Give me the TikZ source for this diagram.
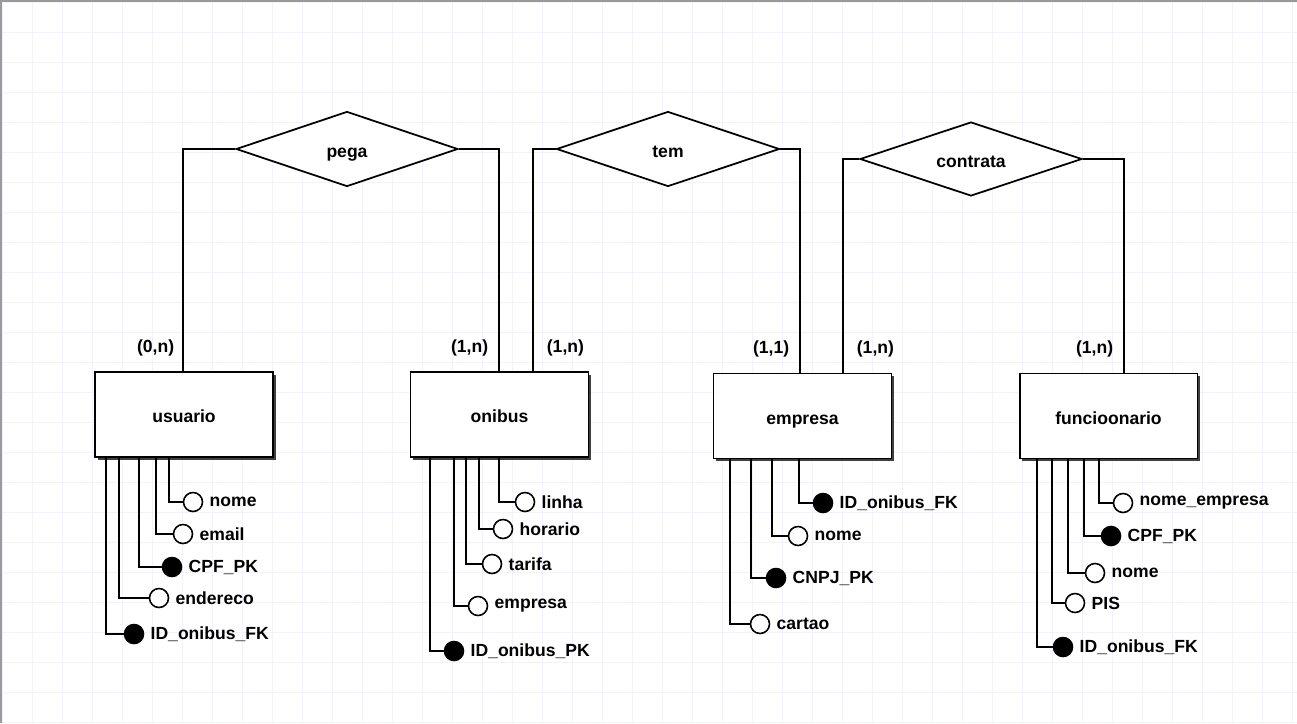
\documentclass[tikz,border=0pt]{standalone}
\usepackage{fontspec}
\setmainfont{Liberation Sans}
\usepackage{tikz}
\usetikzlibrary{shapes.geometric}
\usetikzlibrary{shadows}
\usetikzlibrary{positioning}
\definecolor{gridcolor}{HTML}{F0F3FA}
\definecolor{framecolor}{HTML}{9A9A9A}
\tikzset{
  erfont/.style={font=\bfseries\fontsize{10}{12}\selectfont},
  entity/.style={draw, erfont, line width=1.1pt, fill=white, minimum width=3.56cm,
    minimum height=1.7cm, text height=9.5pt, text depth=0pt,
    drop shadow={shadow xshift=1.6pt, shadow yshift=-1.6pt, fill=black!75, opacity=1}},
  relation/.style={draw, erfont, diamond, aspect=3, inner sep=0pt, line width=1pt, fill=white,
    text height=9.5pt, text depth=0pt},
  attr/.style={draw, circle, line width=0.9pt, fill=white, inner sep=0pt, minimum size=0.38cm},
  pkattr/.style={attr, fill=black},
  attrtext/.style={erfont, inner sep=0pt},
  card/.style={erfont, inner sep=0pt}
}

\begin{document}
\begin{tikzpicture}[x=0.02cm,y=-0.02cm,line width=1pt]
\useasboundingbox (0,0) rectangle (1297,723);
\fill[white] (0,0) rectangle (1297,723);
%%\draw[step=1cm,color=gray!50,dotted] (0,0) grid (5,3);
\foreach \g in {2,32,...,1292}
    \draw[gridcolor, line width=0.55pt] (\g,0) -- (\g,723);
\foreach \g in {2,32,...,722}
    \draw[gridcolor, line width=0.55pt] (0,\g) -- (1297,\g);
\draw[framecolor, line width=1.2pt] (1,723) -- (1,1) -- (1297,1);

% entidades
\node[entity] (usuario) at (184,414.5) {usuario};
\node[entity] (onibus) at (499.5,414.5) {onibus};
\node[entity] (empresa) at (802.5,416) {empresa};
\node[entity] (funcionario) at (1108.5,416) {funcioonario};

% relacionamentos
\node[relation, minimum width=4.44cm, minimum height=1.5cm] (pega) at (347,149) {pega};
\node[relation, minimum width=4.46cm, minimum height=1.5cm] (tem) at (668,149) {tem};
\node[relation, minimum width=4.44cm, minimum height=1.48cm] (contrata) at (971,159) {contrata};

\draw (pega.west) -| (usuario.north -| 183,0);
\draw (pega.east) -| (onibus.north -| 499,0);
\draw (tem.west) -| (onibus.north -| 533,0);
\draw (tem.east) -| (empresa.north -| 800,0);
\draw (contrata.west) -| (empresa.north -| 843,0);
\draw (contrata.east) -| (funcionario.north -| 1124,0);

% cardinalidades
\node[card, anchor=east] (c1) at (175,348) {(0,n)};
\node[card, anchor=east] (c2) at (489,348) {(1,n)};
\node[card, anchor=west] (c3) at (546,348) {(1,n)};
\node[card, anchor=east] (c4) at (790,349) {(1,1)};
\node[card, anchor=west] (c5) at (856,349) {(1,n)};
\node[card, anchor=east] (c6) at (1114,349) {(1,n)};

% atributos
\foreach \ent/\nm/\lx/\ly/\cx/\sty/\txt in {
    usuario/u1/169/502/193/attr/nome,
    usuario/u2/156/534/183/attr/email,
    usuario/u3/139/567/172/pkattr/CPF\_PK,
    usuario/u4/119/598/159/attr/endereco,
    usuario/u5/106/634/134/pkattr/ID\_onibus\_FK,
    onibus/o1/499/502/525/attr/linha,
    onibus/o2/479/529/503/attr/horario,
    onibus/o3/466/564/492/attr/tarifa,
    onibus/o4/454/606/478/attr/empresa,
    onibus/o5/430/651/454/pkattr/ID\_onibus\_PK,
    empresa/e1/799/503/823/pkattr/ID\_onibus\_FK,
    empresa/e2/772/536/798/attr/nome,
    empresa/e3/751/578/776/pkattr/CNPJ\_PK,
    empresa/e4/730/624/760/attr/cartao,
    funcionario/f1/1099/503/1123/attr/nome\_empresa,
    funcionario/f2/1084/536/1111/pkattr/CPF\_PK,
    funcionario/f3/1068/573/1095/attr/nome,
    funcionario/f4/1052/603/1075/attr/PIS,
    funcionario/f5/1037/647/1063/pkattr/ID\_onibus\_FK}
{
    \node[\sty] (\nm) at (\cx,\ly) {};
    \node[attrtext, right=0.11cm of \nm] (\nm-t) {\txt};
    \draw (\nm.west) -| (\ent.south -| \lx,0);
}
\end{tikzpicture}
\end{document}
